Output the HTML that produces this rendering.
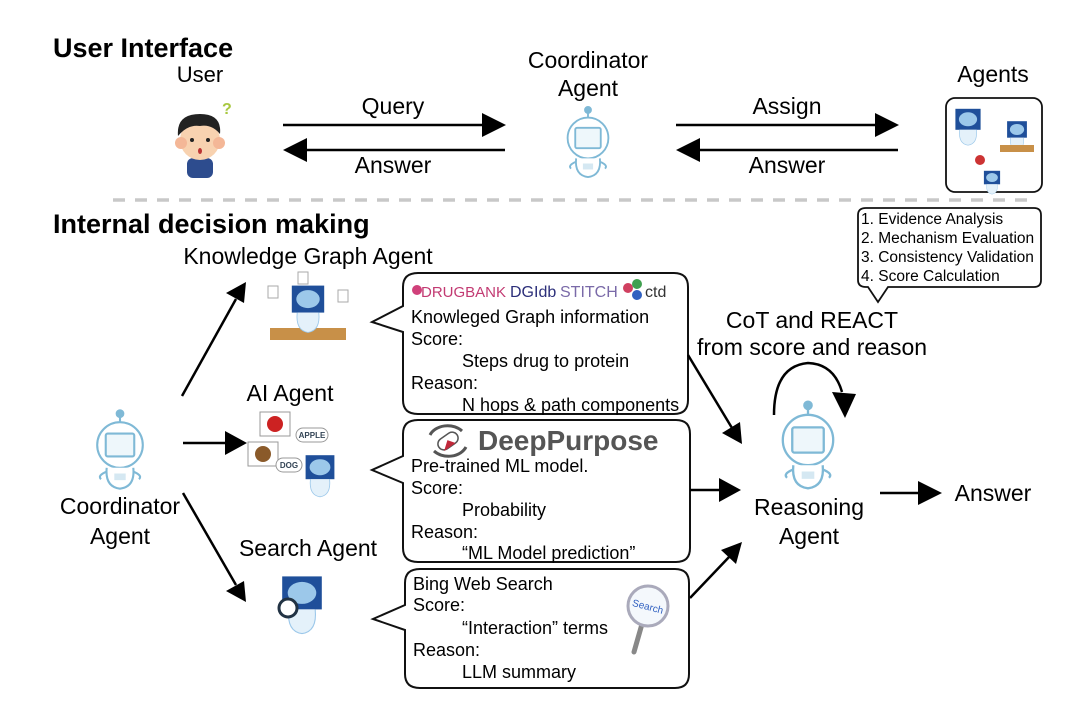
<!DOCTYPE html>
<html><head><meta charset="utf-8"><style>
html,body{margin:0;padding:0;background:#fff;}
svg{display:block;font-family:"Liberation Sans",Arial,sans-serif;}
</style></head><body>
<svg width="1080" height="704" viewBox="0 0 1080 704" xmlns="http://www.w3.org/2000/svg">
<defs>
<g id="robot" fill="none" stroke="#7fb9d6" stroke-width="2.2">
 <line x1="0" y1="-30" x2="0" y2="-22"/>
 <circle cx="0" cy="-33" r="3.5" fill="#7fb9d6"/>
 <circle cx="0" cy="0" r="24" fill="#fff"/>
 <rect x="-15" y="-12" width="30" height="24" rx="2" fill="#eef7fb"/>
 <path d="M-14 24 Q-16 44 0 46 Q16 44 14 24" fill="#fff"/>
 <path d="M-14 28 Q-24 32 -20 36 M14 28 Q24 32 20 36"/>
 <rect x="-6" y="30" width="12" height="7" fill="#d5e8f2" stroke="none"/>
</g>
<g id="brainbox">
 <rect x="-18" y="-16" width="36" height="30" fill="#1f4f9a"/>
 <ellipse cx="0" cy="-1" rx="13" ry="10" fill="#9cc8ea"/>
 <path d="M-12 14 Q-14 34 0 36 Q14 34 12 14" fill="#e4f1fa" stroke="#9cc8ea"/>
</g>
</defs>

<text x="53" y="57" font-size="27" font-weight="bold">User Interface</text>
<text x="200" y="82" font-size="22" text-anchor="middle">User</text>
<g transform="translate(200,140)">
 <rect x="-13" y="18" width="26" height="20" rx="6" fill="#2d4c8e"/>
 <circle cx="0" cy="0" r="20" fill="#f8d2b0"/>
 <circle cx="-19" cy="3" r="6" fill="#f4b797"/><circle cx="19" cy="3" r="6" fill="#f4b797"/>
 <path d="M-22 -4 Q-24 -26 0 -26 Q22 -26 20 -6 Q12 -16 0 -14 Q-12 -16 -22 -4Z" fill="#222"/>
 <circle cx="-8" cy="0" r="2" fill="#222"/><circle cx="8" cy="0" r="2" fill="#222"/>
 <ellipse cx="0" cy="11" rx="2" ry="3" fill="#b33"/>
 <text x="22" y="-26" font-size="16" font-weight="bold" fill="#a8c840">?</text>
</g>
<text x="393" y="114" font-size="23" text-anchor="middle">Query</text>
<line x1="283" y1="125" x2="484" y2="125" stroke="#000" stroke-width="2.5"/>
<polygon points="506,125 482,113 482,137" fill="#000"/>
<line x1="305" y1="150" x2="505" y2="150" stroke="#000" stroke-width="2.5"/>
<polygon points="283,150 307,138 307,162" fill="#000"/>
<text x="393" y="173" font-size="23" text-anchor="middle">Answer</text>

<text x="588" y="68" font-size="23" text-anchor="middle">Coordinator</text>
<text x="588" y="96" font-size="23" text-anchor="middle">Agent</text>
<use href="#robot" transform="translate(588,138) scale(0.85)"/>

<text x="787" y="114" font-size="23" text-anchor="middle">Assign</text>
<line x1="676" y1="125" x2="877" y2="125" stroke="#000" stroke-width="2.5"/>
<polygon points="899,125 875,113 875,137" fill="#000"/>
<line x1="698" y1="150" x2="898" y2="150" stroke="#000" stroke-width="2.5"/>
<polygon points="676,150 700,138 700,162" fill="#000"/>
<text x="787" y="173" font-size="23" text-anchor="middle">Answer</text>

<text x="993" y="82" font-size="23" text-anchor="middle">Agents</text>
<rect x="946" y="98" width="96" height="94" rx="9" fill="#fff" stroke="#111" stroke-width="1.8"/>
<use href="#brainbox" transform="translate(968,120) scale(0.7)"/>
<use href="#brainbox" transform="translate(1017,130) scale(0.55)"/>
<rect x="1000" y="145" width="34" height="7" fill="#c89048"/>
<circle cx="980" cy="160" r="5" fill="#c33"/>
<use href="#brainbox" transform="translate(992,178) scale(0.45)"/>

<line x1="113" y1="200" x2="1035" y2="200" stroke="#c8c8c8" stroke-width="3.5" stroke-dasharray="12,10"/>

<text x="53" y="233" font-size="27" font-weight="bold">Internal decision making</text>
<text x="308" y="264" font-size="23" text-anchor="middle">Knowledge Graph Agent</text>
<g transform="translate(308,300)">
 <rect x="-38" y="28" width="76" height="12" fill="#c89048"/>
 <use href="#brainbox" transform="translate(0,0) scale(0.9)"/>
 <rect x="-40" y="-14" width="10" height="12" fill="#fff" stroke="#aaa"/>
 <rect x="30" y="-10" width="10" height="12" fill="#fff" stroke="#aaa"/>
 <rect x="-10" y="-28" width="10" height="12" fill="#fff" stroke="#aaa"/>
</g>
<text x="290" y="401" font-size="23" text-anchor="middle">AI Agent</text>
<g transform="translate(290,450)">
 <rect x="-30" y="-38" width="30" height="24" fill="#fff" stroke="#999"/>
 <circle cx="-15" cy="-26" r="8" fill="#c22"/>
 <rect x="-42" y="-8" width="30" height="24" fill="#fff" stroke="#999"/>
 <circle cx="-27" cy="4" r="8" fill="#8a5a2a"/>
 <rect x="6" y="-22" width="32" height="14" rx="7" fill="#fff" stroke="#999"/>
 <text x="22" y="-12" font-size="8" font-weight="bold" fill="#345" text-anchor="middle">APPLE</text>
 <rect x="-14" y="8" width="26" height="14" rx="7" fill="#fff" stroke="#999"/>
 <text x="-1" y="18" font-size="8" font-weight="bold" fill="#345" text-anchor="middle">DOG</text>
 <use href="#brainbox" transform="translate(30,18) scale(0.8)"/>
</g>
<text x="308" y="556" font-size="23" text-anchor="middle">Search Agent</text>
<g transform="translate(302,600)">
 <use href="#brainbox" transform="translate(0,-6) scale(1.1)"/>
 <circle cx="-14" cy="8" r="9" fill="#fff" stroke="#234" stroke-width="3"/>
</g>

<use href="#robot" transform="translate(120,445) scale(0.95)"/>
<text x="120" y="514" font-size="23" text-anchor="middle">Coordinator</text>
<text x="120" y="544" font-size="23" text-anchor="middle">Agent</text>

<line x1="182" y1="396" x2="236" y2="299" stroke="#000" stroke-width="2.5"/>
<polygon points="246,282 226,293 244,303" fill="#000"/>
<line x1="183" y1="443" x2="228" y2="443" stroke="#000" stroke-width="2.5"/>
<polygon points="247,443 225,431 225,455" fill="#000"/>
<line x1="183" y1="493" x2="236" y2="585" stroke="#000" stroke-width="2.5"/>
<polygon points="246,602 226,591 244,581" fill="#000"/>

<g fill="#fff" stroke="#111" stroke-width="2">
 <path d="M418 273 H674 Q688 273 688 287 V400 Q688 414 674 414 H418 Q403 414 403 400 V332 L372 322 L403 306 V287 Q403 273 418 273Z"/>
 <path d="M418 420 H676 Q690 420 690 434 V548 Q690 562 676 562 H418 Q403 562 403 548 V483 L372 470 L403 456 V434 Q403 420 418 420Z"/>
 <path d="M420 569 H675 Q689 569 689 583 V674 Q689 688 675 688 H420 Q405 688 405 674 V630 L373 619 L405 605 V583 Q405 569 420 569Z"/>
</g>
<g font-size="18">
 <circle cx="417" cy="290" r="5" fill="#d0407a"/>
 <text x="421" y="297" font-size="15" fill="#c23a72">DRUGBANK</text>
 <text x="510" y="297" font-size="16" fill="#2c2f7a">DGIdb</text>
 <text x="560" y="297" font-size="16" fill="#7a6aa8">STITCH</text>
 <circle cx="628" cy="288" r="5" fill="#d04060"/><circle cx="637" cy="284" r="5" fill="#40a050"/><circle cx="637" cy="295" r="5" fill="#3060c0"/>
 <text x="645" y="297" font-size="16" fill="#333">ctd</text>
 <text x="411" y="323">Knowleged Graph information</text>
 <text x="411" y="345">Score:</text>
 <text x="462" y="367">Steps drug to protein</text>
 <text x="411" y="389">Reason:</text>
 <text x="462" y="411">N hops &amp; path components</text>

 <g transform="translate(448,441)">
  <path d="M-18 -6 A19 15 0 0 1 14 -10" fill="none" stroke="#555" stroke-width="3"/>
  <path d="M18 6 A19 15 0 0 1 -14 10" fill="none" stroke="#555" stroke-width="3"/>
  <rect x="-11" y="-6" width="22" height="12" rx="6" fill="#fff" stroke="#555" stroke-width="1.5" transform="rotate(-35)"/>
  <path d="M-9 6 L0 -1 L5 6 Z" fill="#c0283a" transform="rotate(-35)"/>
 </g>
 <text x="478" y="450" font-size="28" font-weight="bold" fill="#555">DeepPurpose</text>
 <text x="411" y="472">Pre-trained ML model.</text>
 <text x="411" y="494">Score:</text>
 <text x="462" y="516">Probability</text>
 <text x="411" y="538">Reason:</text>
 <text x="462" y="559">“ML Model prediction”</text>

 <text x="413" y="590">Bing Web Search</text>
 <text x="413" y="611">Score:</text>
 <text x="462" y="634">“Interaction” terms</text>
 <text x="413" y="656">Reason:</text>
 <text x="462" y="678">LLM summary</text>
</g>
<g transform="translate(648,606)">
 <line x1="-6" y1="18" x2="-14" y2="46" stroke="#888" stroke-width="5" stroke-linecap="round"/>
 <circle cx="0" cy="0" r="20" fill="#f4f8fc" stroke="#aab" stroke-width="3"/>
 <text x="0" y="4" font-size="10" text-anchor="middle" fill="#3060c0" transform="rotate(15)">Search</text>
</g>

<line x1="688" y1="355" x2="732" y2="428" stroke="#000" stroke-width="2.5"/>
<polygon points="742,444 722,433 740,422" fill="#000"/>
<line x1="690" y1="490" x2="722" y2="490" stroke="#000" stroke-width="2.5"/>
<polygon points="741,490 719,478 719,502" fill="#000"/>
<line x1="690" y1="598" x2="730" y2="556" stroke="#000" stroke-width="2.5"/>
<polygon points="742,542 721,550 736,564" fill="#000"/>

<path d="M866 208 H1034 Q1041 208 1041 215 V280 Q1041 287 1034 287 H888 L878 302 L868 287 H866 Q858 287 858 280 V215 Q858 208 866 208Z" fill="#fff" stroke="#111" stroke-width="1.8"/>
<g font-size="15.5">
 <text x="861" y="224">1. Evidence Analysis</text>
 <text x="861" y="243">2. Mechanism Evaluation</text>
 <text x="861" y="262">3. Consistency Validation</text>
 <text x="861" y="281">4. Score Calculation</text>
</g>
<text x="812" y="328" font-size="23" text-anchor="middle">CoT and REACT</text>
<text x="812" y="355" font-size="23" text-anchor="middle">from score and reason</text>
<path d="M774 415 Q774 366 808 363 Q834 364 842 392" fill="none" stroke="#000" stroke-width="2.5"/>
<polygon points="845,418 832,392 856,394" fill="#000"/>
<use href="#robot" transform="translate(808,440) scale(1.05)"/>
<text x="809" y="515" font-size="23" text-anchor="middle">Reasoning</text>
<text x="809" y="544" font-size="23" text-anchor="middle">Agent</text>
<line x1="880" y1="493" x2="920" y2="493" stroke="#000" stroke-width="2.5"/>
<polygon points="942,493 918,481 918,505" fill="#000"/>
<text x="993" y="501" font-size="23" text-anchor="middle">Answer</text>
</svg>
</body></html>
